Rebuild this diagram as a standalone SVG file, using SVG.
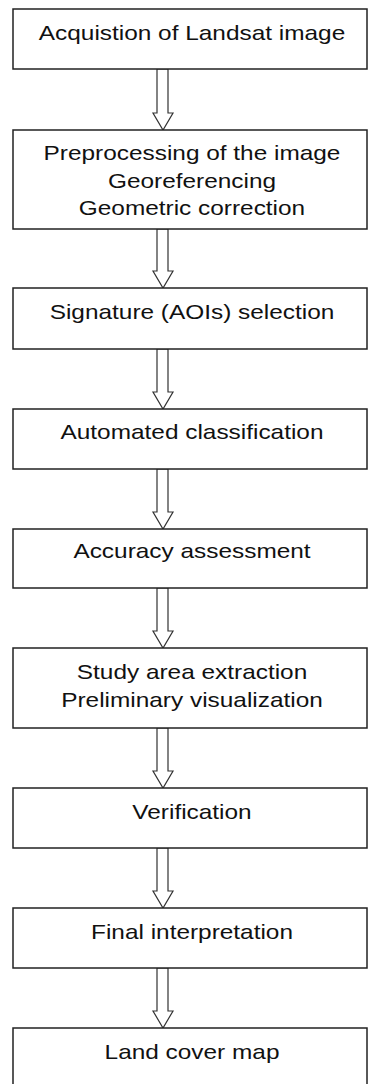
<svg xmlns="http://www.w3.org/2000/svg" width="368" height="1084" viewBox="0 0 368 1084">
<style>
.box{fill:#fff;stroke:#222;stroke-width:1.5}
.arrow{fill:#fff;stroke:#333;stroke-width:1.2;stroke-linejoin:miter}
.t{font-family:"Liberation Sans",Arial,sans-serif;font-size:20px;fill:#111;text-anchor:middle}
</style>
<rect width="368" height="1084" fill="#fff"/>
<g id="connectors">
<polygon class="arrow" points="157,69 168,69 168,113 173,113 163,130 153,113 157,113"/>
<polygon class="arrow" points="157,229 168,229 168,271 173,271 163,288 153,271 157,271"/>
<polygon class="arrow" points="157,349 168,349 168,392 173,392 163,409 153,392 157,392"/>
<polygon class="arrow" points="157,469 168,469 168,512 173,512 163,529 153,512 157,512"/>
<polygon class="arrow" points="157,588 168,588 168,631 173,631 163,648 153,631 157,631"/>
<polygon class="arrow" points="157,728 168,728 168,771 173,771 163,788 153,771 157,771"/>
<polygon class="arrow" points="157,848 168,848 168,891 173,891 163,908 153,891 157,891"/>
<polygon class="arrow" points="157,968 168,968 168,1011 173,1011 163,1028 153,1011 157,1011"/>
</g>
<g id="n1">
<rect class="box" x="13" y="9" width="354" height="60"/>
<text class="t" transform="translate(192 40) scale(1.22 1)">Acquistion of Landsat image</text>
</g>
<g id="n2">
<rect class="box" x="13" y="130" width="354" height="99"/>
<text class="t" transform="translate(192 160) scale(1.22 1)">Preprocessing of the image</text>
<text class="t" transform="translate(192 187.5) scale(1.22 1)">Georeferencing</text>
<text class="t" transform="translate(192 215) scale(1.22 1)">Geometric correction</text>
</g>
<g id="n3">
<rect class="box" x="13" y="288" width="354" height="61"/>
<text class="t" transform="translate(192 319) scale(1.22 1)">Signature (AOIs) selection</text>
</g>
<g id="n4">
<rect class="box" x="13" y="409" width="354" height="60"/>
<text class="t" transform="translate(192 439) scale(1.22 1)">Automated classification</text>
</g>
<g id="n5">
<rect class="box" x="13" y="529" width="354" height="59"/>
<text class="t" transform="translate(192 558) scale(1.22 1)">Accuracy assessment</text>
</g>
<g id="n6">
<rect class="box" x="13" y="648" width="354" height="80"/>
<text class="t" transform="translate(192 679) scale(1.22 1)">Study area extraction</text>
<text class="t" transform="translate(192 707) scale(1.22 1)">Preliminary visualization</text>
</g>
<g id="n7">
<rect class="box" x="13" y="788" width="354" height="60"/>
<text class="t" transform="translate(192 819) scale(1.22 1)">Verification</text>
</g>
<g id="n8">
<rect class="box" x="13" y="908" width="354" height="60"/>
<text class="t" transform="translate(192 939) scale(1.22 1)">Final interpretation</text>
</g>
<g id="n9">
<rect class="box" x="13" y="1028" width="354" height="70"/>
<text class="t" transform="translate(192 1059) scale(1.22 1)">Land cover map</text>
</g>
</svg>
